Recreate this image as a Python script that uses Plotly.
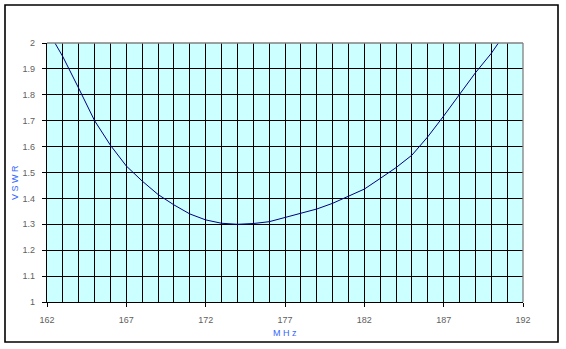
import plotly.graph_objects as go

freq_mhz = [162.5, 163, 164, 165, 166, 167, 168, 169, 170, 171, 172, 173, 174, 175, 176,
            177, 178, 179, 180, 181, 182, 183, 184, 185, 186, 187, 188, 189, 190, 190.45]
vswr = [2.0, 1.947, 1.825, 1.70, 1.605, 1.525, 1.467, 1.415, 1.375, 1.34, 1.317, 1.304, 1.30,
        1.303, 1.31, 1.327, 1.342, 1.359, 1.381, 1.407, 1.436, 1.477, 1.519, 1.567, 1.638,
        1.718, 1.80, 1.885, 1.96, 2.0]
x_range = [162, 192]
y_range = [1, 2]
y_tickvals = [1.0, 1.1, 1.2, 1.3, 1.4, 1.5, 1.6, 1.7, 1.8, 1.9, 2.0]
y_ticktext = ["1", "1.1", "1.2", "1.3", "1.4", "1.5", "1.6", "1.7", "1.8", "1.9", "2"]
x_title = "M H z"
y_title = "V S W R"

tick_font = dict(family="Liberation Sans, Arial, sans-serif", size=9, color="#606060")
title_font = dict(family="Liberation Sans, Arial, sans-serif", size=9, color="#3366FF")

fig = go.Figure()
fig.add_trace(go.Scatter(x=freq_mhz, y=vswr, mode="lines",
                         line=dict(color="#000080", width=1), hoverinfo="skip",
                         showlegend=False))

L, R, T, B = 47, 43, 43, 47
W, H = 566, 349
pw, ph = W - L - R, H - T - B

def px(x):
    return (x - L) / pw

def py(y):
    return (H - B - y) / ph

fig.update_layout(
    width=W, height=H,
    margin=dict(l=L, r=R, t=T, b=B),
    paper_bgcolor="white", plot_bgcolor="#CCFFFF",
    xaxis=dict(range=x_range, tick0=162, dtick=5, showgrid=True, gridcolor="black",
               gridwidth=1.3, ticks="outside", ticklen=4, tickcolor="black",
               showline=True, linecolor="black", linewidth=1.3, zeroline=False,
               tickfont=tick_font, ticklabelstandoff=5,
               minor=dict(dtick=1, tick0=162, showgrid=True, gridcolor="black",
                          gridwidth=1.3, ticks="")),
    yaxis=dict(range=y_range, tickmode="array", tickvals=y_tickvals, ticktext=y_ticktext,
               showgrid=True, gridcolor="black",
               gridwidth=1.3, ticks="outside", ticklen=4, tickcolor="black",
               showline=True, linecolor="black", linewidth=1.3, zeroline=False,
               tickfont=tick_font, ticklabelstandoff=5),
    shapes=[
        dict(type="line", xref="paper", yref="paper", x0=0, x1=1, y0=1, y1=1,
             line=dict(color="#808080", width=1.3), layer="above"),
        dict(type="line", xref="paper", yref="paper", x0=1, x1=1, y0=0, y1=1,
             line=dict(color="#808080", width=1.3), layer="above"),
        dict(type="rect", xref="paper", yref="paper",
             x0=px(5), x1=px(558), y0=py(342), y1=py(5),
             line=dict(color="black", width=1.6), fillcolor="rgba(0,0,0,0)"),
    ],
    annotations=[
        dict(text=x_title, xref="paper", yref="paper", x=0.5, y=py(333),
             showarrow=False, font=title_font, xanchor="center", yanchor="middle"),
        dict(text=y_title, xref="paper", yref="paper", x=px(15), y=py(183),
             showarrow=False, font=title_font, textangle=-90,
             xanchor="center", yanchor="middle"),
    ],
)

fig.write_html("out.html")
